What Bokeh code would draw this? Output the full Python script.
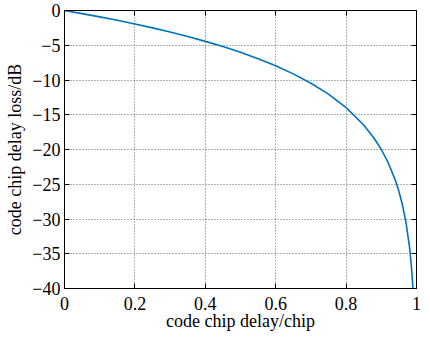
from bokeh.plotting import figure
from bokeh.models import LinearAxis, Range1d, FixedTicker
from bokeh.embed import file_html
from bokeh.resources import INLINE

# data
delay_chip = [0.0, 0.05, 0.1, 0.15, 0.2, 0.25, 0.3, 0.35, 0.4, 0.45, 0.5, 0.55,
              0.6, 0.65, 0.7, 0.75, 0.8, 0.85, 0.88, 0.9, 0.92, 0.94, 0.95,
              0.96, 0.97, 0.98, 0.985, 0.99]
loss_db = [0.0, -0.45, -0.92, -1.41, -1.94, -2.5, -3.1, -3.74, -4.44, -5.19,
           -6.02, -6.94, -7.96, -9.12, -10.46, -12.04, -13.98, -16.48, -18.42,
           -20.0, -21.94, -24.44, -26.02, -27.96, -30.46, -33.98, -36.48, -40.0]

x_ticks = [0, 0.2, 0.4, 0.6, 0.8, 1]
x_tick_labels = ["0", "0.2", "0.4", "0.6", "0.8", "1"]
y_ticks = [0, -5, -10, -15, -20, -25, -30, -35, -40]
y_tick_labels = ["0", "\u22125", "\u221210", "\u221215", "\u221220", "\u221225",
                 "\u221230", "\u221235", "\u221240"]

FONT = "Liberation Serif"
FS = "18px"

p = figure(frame_width=352, frame_height=278, output_backend="svg",
           toolbar_location=None,
           x_range=Range1d(0, 1), y_range=Range1d(-40, 0),
           min_border_left=64, min_border_right=6, min_border_top=10,
           min_border_bottom=40)
p.background_fill_color = "white"
p.border_fill_color = "white"
p.outline_line_color = "black"
p.outline_line_width = 1

p.line(delay_chip, loss_db, line_color="#0072BD", line_width=1.6)

for ax, ticks, labels in ((p.xaxis[0], x_ticks, x_tick_labels),
                          (p.yaxis[0], y_ticks, y_tick_labels)):
    ax.ticker = FixedTicker(ticks=ticks)
    ax.major_label_overrides = {t: l for t, l in zip(ticks, labels)}
    ax.major_tick_in = 5
    ax.major_tick_out = 0
    ax.minor_tick_in = 0
    ax.minor_tick_out = 0
    ax.axis_line_color = "black"
    ax.major_tick_line_color = "black"
    ax.major_label_text_font = FONT
    ax.major_label_text_font_size = FS
    ax.major_label_text_color = "black"
    ax.axis_label_text_font = FONT
    ax.axis_label_text_font_size = FS
    ax.axis_label_text_font_style = "normal"
    ax.axis_label_text_color = "black"

p.xaxis.axis_label = "code chip delay/chip"
p.yaxis.axis_label = "code chip delay loss/dB"
p.xaxis.major_label_standoff = 8
p.xaxis.axis_label_standoff = -2
p.yaxis.major_label_standoff = 4
p.yaxis.axis_label_standoff = 4

for side, ticks in (("above", x_ticks), ("right", y_ticks)):
    ax = LinearAxis(ticker=FixedTicker(ticks=ticks))
    ax.major_label_overrides = {t: "" for t in ticks}
    ax.major_tick_in = 5
    ax.major_tick_out = 0
    ax.minor_tick_in = 0
    ax.minor_tick_out = 0
    ax.major_label_standoff = 0
    ax.axis_line_color = "black"
    p.add_layout(ax, side)

for g in (p.xgrid[0], p.ygrid[0]):
    g.grid_line_color = "black"
    g.grid_line_alpha = 0.6
    g.grid_line_dash = "1 2"
    g.grid_line_width = 1
p.xgrid[0].ticker = FixedTicker(ticks=x_ticks[1:-1])
p.ygrid[0].ticker = FixedTicker(ticks=y_ticks[1:-1])

open("out.html", "w").write(file_html(p, INLINE))
